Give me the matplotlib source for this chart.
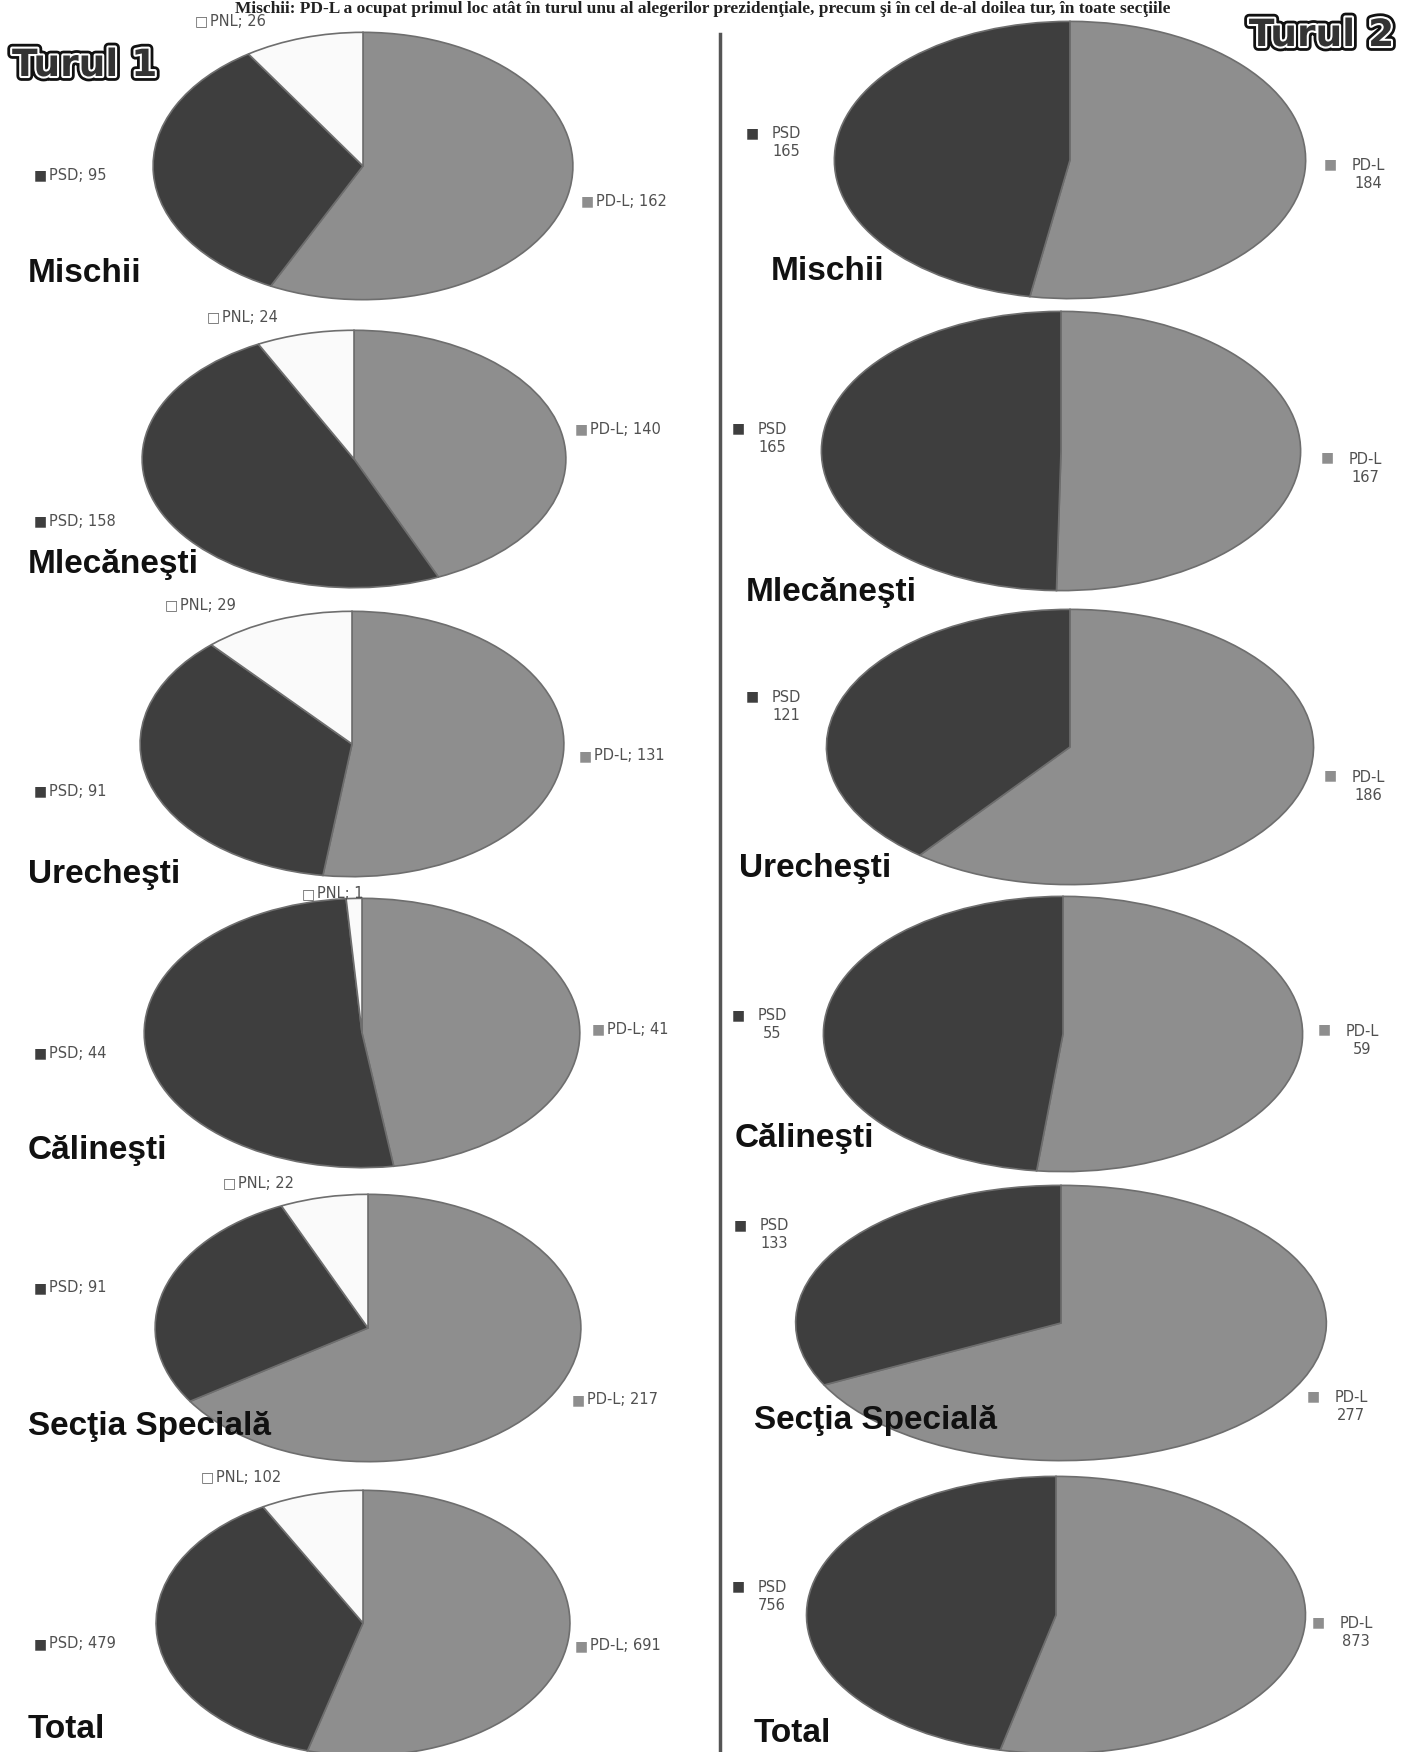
import matplotlib.pyplot as plt
import matplotlib.patheffects as pe

# Date: voturi pe sectii, turul 1 si turul 2
sectii = ['Mischii', 'Mlecăneşti', 'Urecheşti', 'Călineşti', 'Secţia Specială', 'Total']
t1_pdl = [162, 140, 131, 41, 217, 691]
t1_psd = [95, 158, 91, 44, 91, 479]
t1_pnl = [26, 24, 29, 1, 22, 102]
t2_pdl = [184, 167, 186, 59, 277, 873]
t2_psd = [165, 165, 121, 55, 133, 756]

titlu = ('Mischii: PD-L a ocupat primul loc atât în turul unu al alegerilor '
         'prezidenţiale, precum şi în cel de-al doilea tur, în toate secţiile')

culori = ['#8e8e8e', '#3e3e3e', '#fafafa']

W, H = 1405, 1752

# pozitii (pixeli): centru x, centru y, raza x, raza y
pie1 = [(363, 166, 212, 135), (354, 459, 214, 130), (352, 744, 214, 134),
        (362, 1033, 220, 136), (368, 1328, 215, 135), (363, 1623, 209, 134)]
pie2 = [(1070, 160, 238, 140), (1061, 451, 242, 141), (1070, 747, 246, 139),
        (1063, 1034, 242, 139), (1061, 1323, 268, 139), (1056, 1615, 252, 140)]

# etichete turul 1
lbl_pnl1 = [(195, 21), (207, 317), (165, 605), (302, 894), (223, 1183), (201, 1477)]
lbl_psd1 = [(34, 175), (34, 521), (34, 791), (34, 1053), (34, 1288), (34, 1644)]
lbl_pdl1 = [(581, 201), (575, 429), (579, 756), (592, 1029), (572, 1400), (575, 1646)]
nume1 = [(28, 274), (28, 565), (28, 875), (28, 1150), (28, 1426), (28, 1729)]
# etichete turul 2
lbl_psd2 = [(746, 143), (732, 438), (746, 706), (732, 1025), (734, 1235), (732, 1596)]
lbl_pdl2 = [(1324, 175), (1321, 468), (1324, 786), (1318, 1040), (1307, 1407), (1312, 1633)]
nume2 = [(771, 271), (746, 593), (739, 869), (735, 1139), (754, 1421), (754, 1734)]

fig = plt.figure(figsize=(W / 100, H / 100), dpi=100)
fig.patch.set_facecolor('white')


def deseneaza_pie(pos, valori):
    cx, cy, rx, ry = pos
    ax = fig.add_axes([(cx - rx) / W, (H - cy - ry) / H, 2 * rx / W, 2 * ry / H])
    ax.pie(valori, colors=culori[:len(valori)], startangle=90, counterclock=False,
           radius=1, wedgeprops=dict(edgecolor='#6e6e6e', linewidth=1.2))
    ax.set_aspect('auto')
    ax.set_xlim(-1.01, 1.01)
    ax.set_ylim(-1.01, 1.01)
    ax.axis('off')


for i in range(len(sectii)):
    deseneaza_pie(pie1[i], [t1_pdl[i], t1_psd[i], t1_pnl[i]])
    deseneaza_pie(pie2[i], [t2_pdl[i], t2_psd[i]])

# strat pentru text, in pixeli
tx = fig.add_axes([0, 0, 1, 1])
tx.set_xlim(0, W)
tx.set_ylim(H, 0)
tx.axis('off')

lbl_kw = dict(fontsize=10.5, color='#505050', va='center', family='DejaVu Sans')
nume_kw = dict(fontsize=24, fontweight='bold', color='#111111', va='center',
               family=['Liberation Sans Narrow', 'Liberation Sans'])


def cheie(x, y, culoare, simbol='■'):
    tx.text(x, y, simbol, fontsize=10, color=culoare, va='center', ha='left',
            family='DejaVu Sans')


for i, s in enumerate(sectii):
    # turul 1
    x, y = lbl_pnl1[i]
    cheie(x, y, '#666666', '□')
    tx.text(x + 15, y, f'PNL; {t1_pnl[i]}', **lbl_kw)
    x, y = lbl_psd1[i]
    cheie(x, y, culori[1])
    tx.text(x + 15, y, f'PSD; {t1_psd[i]}', **lbl_kw)
    x, y = lbl_pdl1[i]
    cheie(x, y, culori[0])
    tx.text(x + 15, y, f'PD-L; {t1_pdl[i]}', **lbl_kw)
    tx.text(nume1[i][0], nume1[i][1], s, **nume_kw)
    # turul 2
    x, y = lbl_psd2[i]
    cheie(x, y - 10, culori[1])
    tx.text(x + 40, y, f'PSD\n{t2_psd[i]}', ha='center', multialignment='center',
            linespacing=1.25, **lbl_kw)
    x, y = lbl_pdl2[i]
    cheie(x, y - 11, culori[0])
    tx.text(x + 44, y, f'PD-L\n{t2_pdl[i]}', ha='center', multialignment='center',
            linespacing=1.25, **lbl_kw)
    tx.text(nume2[i][0], nume2[i][1], s, **nume_kw)

# linia de separare
tx.plot([720, 720], [34, H], color='#555555', linewidth=2.5)

# Turul 1 / Turul 2
tur_fx = [pe.Stroke(linewidth=7, foreground='#111111'),
          pe.Stroke(linewidth=3, foreground='white'), pe.Normal()]
tx.text(12, 66, 'Turul 1', fontsize=27, fontweight='heavy', color='#333333',
        va='center', ha='left', family='DejaVu Sans', path_effects=tur_fx)
tx.text(1394, 36, 'Turul 2', fontsize=27, fontweight='heavy', color='#333333',
        va='center', ha='right', family='DejaVu Sans', path_effects=tur_fx)

# titlul de sus
tx.text(W / 2, 1, titlu, fontsize=12.5, fontweight='bold', color='#222222',
        va='top', ha='center', family='Liberation Serif')

fig.savefig('out.png', dpi=100, facecolor='white')
